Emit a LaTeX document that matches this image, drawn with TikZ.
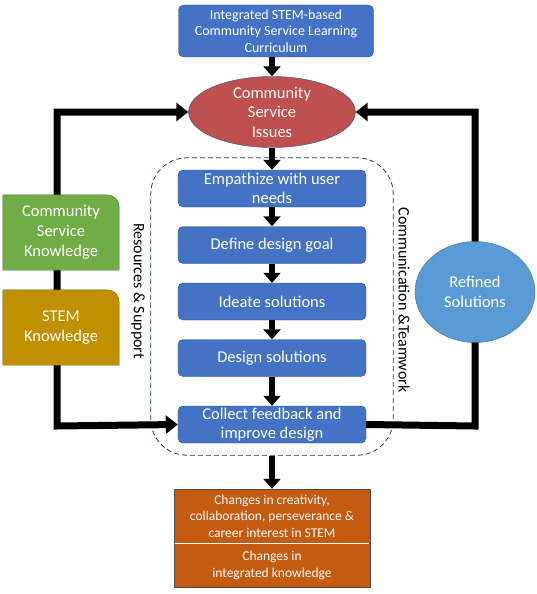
\documentclass[tikz,border=0pt]{standalone}
\usepackage{fontspec}
\setmainfont{Carlito}
\usetikzlibrary{shapes.geometric, positioning, arrows.meta, fit, backgrounds}
\definecolor{boxblue}{HTML}{4472C4}
\definecolor{edgeblue}{HTML}{2F528F}
\definecolor{issuered}{HTML}{C0504D}
\definecolor{refblue}{HTML}{5B9BD5}
\definecolor{refedge}{HTML}{41719C}
\definecolor{csgreen}{HTML}{70AD47}
\definecolor{stemgold}{HTML}{BF9000}
\definecolor{outorange}{HTML}{C55A11}

\begin{document}
\begin{tikzpicture}[x=1pt, y=-1pt, node distance=56.5pt]
    \tikzstyle{stage}=[draw=edgeblue, fill=boxblue, rectangle, rounded corners=5pt, text=white, align=center, font=\fontsize{16.5}{18.5}\selectfont, minimum width=188pt, minimum height=37pt, inner sep=1pt];
    \tikzstyle{issue}=[draw=edgeblue, fill=issuered, ellipse, text=white, align=center, font=\fontsize{16.5}{19.5}\selectfont, minimum width=167pt, minimum height=71pt, inner sep=-2pt];
    \tikzstyle{refined}=[draw=refedge, fill=refblue, ellipse, text=white, align=center, font=\fontsize{16.5}{19.5}\selectfont, minimum width=120pt, minimum height=101pt];
    \tikzstyle{know}=[text=white, align=center, font=\fontsize{16.5}{20}\selectfont, minimum width=116pt, minimum height=75pt];
    \tikzstyle{result}=[draw=black!70, fill=outorange, rectangle, text=white, align=center, font=\fontsize{13.5}{16.5}\selectfont, minimum width=196pt];
    \tikzstyle{dashbox}=[draw=edgeblue!70!black, line width=0.8pt, dash pattern=on 5pt off 3pt, rounded corners=36pt, inner xsep=27pt, inner ysep=12pt];
    \tikzstyle{sidetext}=[font=\fontsize{16}{18}\selectfont, rotate=-90];
    \tikzstyle{flow}=[line width=6pt, -{Triangle[width=17pt, length=10pt]}];
    \tikzstyle{loopline}=[line width=7pt];
    \useasboundingbox (0,0) rectangle (536,594);

    \node[stage, minimum width=195pt, minimum height=52pt, font=\fontsize{14}{16.5}\selectfont] (curric) at (276,31) {Integrated STEM-based\\Community Service Learning\\Curriculum};
    \node[issue] (issues) at (272,112) {Community\\Service\\Issues};
    \node[stage] (empath) at (272,188.5) {Empathize with user\\needs};
    \node[stage, below of=empath] (goal) {Define design goal};
    \node[stage, below of=goal] (ideate) {Ideate solutions};
    \node[stage, below of=ideate] (design) {Design solutions};
    \node[stage, below of=design, yshift=-10pt] (collect) {Collect feedback and\\improve design};
    \node[refined] (refsol) at (475,292) {Refined\\Solutions};
    \node[know] (csk) at (61,232.5) {Community\\Service\\Knowledge};
    \node[know] (stem) at (61,327.5) {STEM\\Knowledge};
    \node[sidetext] (support) at (138,291) {Resources \& Support};
    \node[sidetext] (teamwork) at (404,300) {Communication \&Teamwork};
    \node[result, minimum height=54pt] (chg1) at (272,516) {Changes in creativity,\\collaboration, perseverance \&\\career interest in STEM};
    \node[result, minimum height=44pt, below=0pt of chg1] (chg2) {Changes in\\integrated knowledge};
    \draw[white, line width=1.2pt] ([xshift=0.8pt]chg1.south west) -- ([xshift=-0.8pt]chg1.south east);

    \coordinate (lcorner) at (57,426);
    \coordinate (rcorner) at (475,426);

    \begin{scope}[on background layer]
      \node[dashbox, fit=(empath)(collect)] (team) {};
      % feedback loops
      \draw[loopline, {Triangle[width=18pt, length=12pt]}-{Triangle[width=18pt, length=12pt]}] (issues.west) -| (lcorner) -- (collect.west);
      \draw[loopline, -{Triangle[width=18pt, length=12pt]}] (collect.east) -- (rcorner) |- (issues.east);
      \foreach \k/\c in {csk/csgreen, stem/stemgold}
        \draw[fill=\c, draw=\c!65!black] (\k.south west) -- (\k.north west) -- ([xshift=-12pt]\k.north east) arc[start angle=90, end angle=0, radius=12pt] -- (\k.south east) -- cycle;
    \end{scope}

    \path[flow]
    (curric.south -| issues) edge (issues)
    (issues) edge (empath)
    (empath) edge (goal)
    (goal) edge (ideate)
    (ideate) edge (design)
    (design) edge (collect)
    (team) edge (chg1);
\end{tikzpicture}
\end{document}
